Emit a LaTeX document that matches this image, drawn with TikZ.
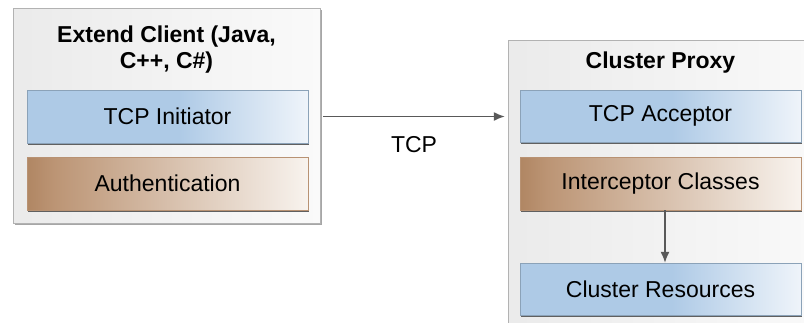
\documentclass[tikz,border=0pt]{standalone}
\usepackage{fontspec}
\setmainfont{Liberation Sans}
\usetikzlibrary{arrows.meta,shadows}

\definecolor{boxblue}{HTML}{AECAE6}
\definecolor{boxblueend}{HTML}{EFF4FA}
\definecolor{boxbrown}{HTML}{B08663}
\definecolor{boxbrownmid}{HTML}{BC9575}
\definecolor{boxbrownend}{HTML}{F8F3EE}
\pgfdeclarehorizontalshading{bluefade}{100bp}{color(0bp)=(boxblue); color(25bp)=(boxblue);
  color(52bp)=(boxblue); color(75bp)=(boxblueend); color(100bp)=(boxblueend)}
\pgfdeclarehorizontalshading{brownfade}{100bp}{color(0bp)=(boxbrown); color(25bp)=(boxbrown);
  color(30bp)=(boxbrownmid); color(75bp)=(boxbrownend); color(100bp)=(boxbrownend)}

\tikzset{
  outerbox/.style={draw=gray!60, left color=gray!16, right color=gray!4,
    drop shadow={shadow xshift=2pt, shadow yshift=-2pt, fill=gray!70, opacity=1}},
  innerbox/.style={minimum width=281pt, font=\fontsize{23}{26}\selectfont,
    drop shadow={shadow xshift=1pt, shadow yshift=-2pt, fill=gray!75!black, opacity=1}},
  bluebox/.style={innerbox, draw=boxblue!80!black, shading=bluefade},
  brownbox/.style={innerbox, draw=boxbrown!90!white, shading=brownfade},
  titletext/.style={font=\bfseries\fontsize{23}{26}\selectfont, align=center},
  flow/.style={draw=black!65, line width=1.4pt, -{Latex[length=11pt,width=9pt]}}
}

\begin{document}
\begin{tikzpicture}[x=1pt,y=-1pt]
    \clip (0,0) rectangle (804,322);

    % client side
    \node[outerbox, minimum width=307pt, minimum height=215pt] (client) at (166.5,115.5) {};
    \node[titletext] (clienttitle) at (166.5,50) {Extend Client (Java,\\C++, C\#)};
    \node[bluebox, minimum height=53pt] (initiator) at (167.5,116.5) {TCP Initiator};
    \node[brownbox, minimum height=53pt] (auth) at (167.5,183.5) {Authentication};

    % proxy side
    \node[outerbox, minimum width=322pt, minimum height=305pt] (proxy) at (669,192.5) {};
    \node[titletext] (proxytitle) at (660.5,63) {Cluster Proxy};
    \node[bluebox, minimum height=52pt] (acceptor) at (660.5,116) {TCP Acceptor};
    \node[brownbox, minimum height=53pt] (interceptor) at (660.5,183.5) {Interceptor Classes};
    \node[bluebox, minimum height=52pt] (resources) at (660.5,289) {Cluster Resources};

    \path[flow, shorten <=3pt, shorten >=3pt] (initiator.east -| client.east) -- (initiator.east -| proxy.west);
    \node[font=\fontsize{23}{26}\selectfont] (tcp) at (414,145) {TCP};

    \path[flow] (interceptor.south -| 665,0) -- (resources.north -| 665,0);
\end{tikzpicture}
\end{document}
